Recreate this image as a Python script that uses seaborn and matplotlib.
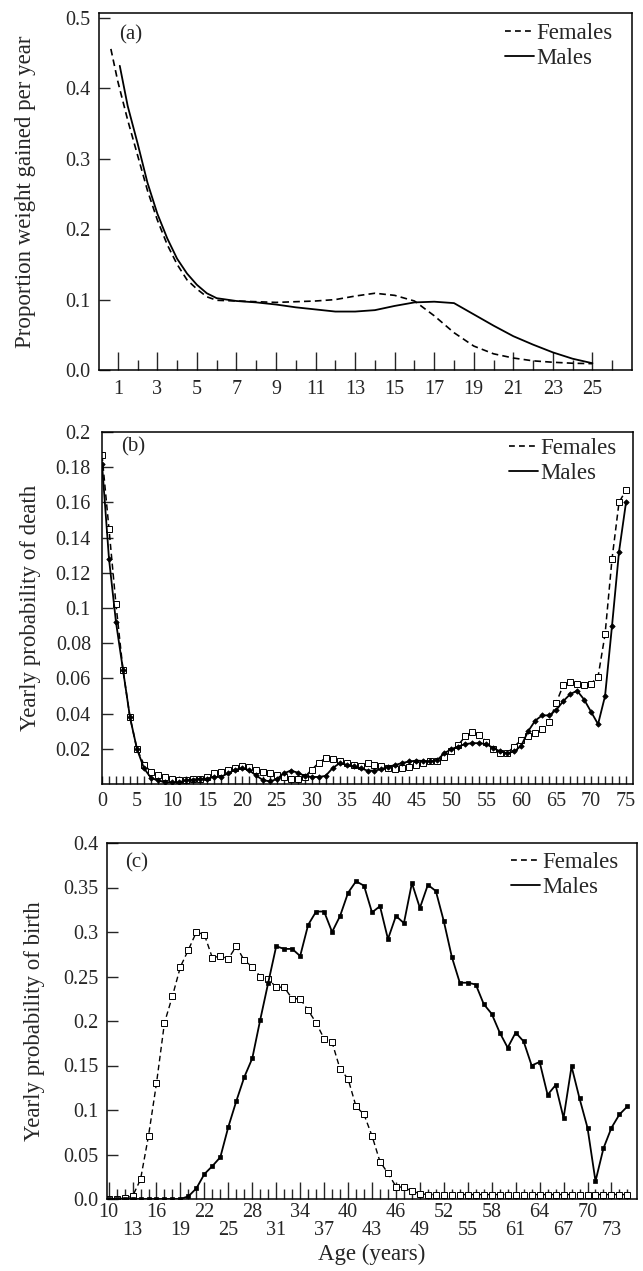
import numpy as np
import pandas as pd
import matplotlib
matplotlib.use("Agg")
import matplotlib.pyplot as plt
from matplotlib.lines import Line2D
from matplotlib.ticker import FixedLocator, FixedFormatter
import seaborn as sns

# ---------------- data ----------------
# (a) proportion weight gained per year
a_female_age = [0.65, 1, 1.5, 2, 2.5, 3, 3.5, 4, 4.5, 5, 5.5, 6, 7, 8, 9, 10, 11, 12, 13, 14, 15,
                16, 17, 18, 19, 20, 21, 22, 23, 24, 25]
a_female = [0.456, 0.41, 0.355, 0.305, 0.255, 0.213, 0.178, 0.150, 0.128, 0.115, 0.104, 0.099,
            0.098, 0.097, 0.096, 0.097, 0.098, 0.100, 0.105, 0.109, 0.106, 0.098, 0.077, 0.053,
            0.034, 0.023, 0.017, 0.013, 0.011, 0.0096, 0.009]
a_male_age = [1.1, 1.5, 2, 2.5, 3, 3.5, 4, 4.5, 5, 5.5, 6, 7, 8, 9, 10, 11, 12, 13, 14, 15,
              16, 17, 18, 19, 20, 21, 22, 23, 24, 25]
a_male = [0.432, 0.375, 0.322, 0.266, 0.222, 0.187, 0.158, 0.137, 0.121, 0.109, 0.102,
          0.098, 0.096, 0.093, 0.089, 0.086, 0.083, 0.083, 0.085, 0.091, 0.096, 0.097, 0.095,
          0.079, 0.063, 0.048, 0.036, 0.025, 0.016, 0.0096]

# (b) yearly probability of death, ages 0..75
b_age = list(range(0, 76))
b_female = [0.187, 0.145, 0.102, 0.065, 0.038, 0.020, 0.011, 0.007, 0.005, 0.004,
            0.003, 0.002, 0.002, 0.003, 0.003, 0.004, 0.006, 0.007, 0.008, 0.009,
            0.010, 0.0099, 0.008, 0.007, 0.0065, 0.005, 0.004, 0.003, 0.0027, 0.004,
            0.008, 0.012, 0.0147, 0.014, 0.0128, 0.012, 0.011, 0.010, 0.0118, 0.011,
            0.010, 0.009, 0.0084, 0.009, 0.0099, 0.0108, 0.0118, 0.0128, 0.0133, 0.0156,
            0.0185, 0.0223, 0.027, 0.0293, 0.028, 0.024, 0.0198, 0.0175, 0.0175, 0.0213,
            0.025, 0.027, 0.029, 0.031, 0.035, 0.046, 0.056, 0.058, 0.057, 0.056,
            0.057, 0.061, 0.085, 0.128, 0.160, 0.167]
b_male = [0.182, 0.128, 0.092, 0.065, 0.038, 0.020, 0.009, 0.0035, 0.002, 0.001,
          0.001, 0.001, 0.002, 0.0025, 0.003, 0.003, 0.004, 0.004, 0.006, 0.008,
          0.009, 0.008, 0.005, 0.0023, 0.0015, 0.0027, 0.006, 0.0076, 0.0065, 0.0046,
          0.004, 0.004, 0.0046, 0.009, 0.0118, 0.011, 0.010, 0.009, 0.0076, 0.0076,
          0.0084, 0.0099, 0.0108, 0.012, 0.0128, 0.0133, 0.0131, 0.0128, 0.0137, 0.0175,
          0.0198, 0.0213, 0.0227, 0.0232, 0.0232, 0.0227, 0.0204, 0.0185, 0.0175, 0.0185,
          0.0217, 0.030, 0.036, 0.039, 0.039, 0.042, 0.047, 0.051, 0.053, 0.048,
          0.041, 0.034, 0.050, 0.090, 0.132, 0.160]

# (c) yearly probability of birth, ages 10..75
c_age = list(range(10, 76))
c_female = [0.0, 0.0, 0.001, 0.003, 0.022, 0.071, 0.130, 0.198, 0.228, 0.261,
            0.280, 0.300, 0.297, 0.271, 0.273, 0.270, 0.284, 0.268, 0.261, 0.250,
            0.247, 0.238, 0.238, 0.225, 0.225, 0.212, 0.198, 0.180, 0.176, 0.146,
            0.135, 0.104, 0.095, 0.071, 0.042, 0.029, 0.014, 0.013, 0.009, 0.006,
            0.005, 0.005, 0.005, 0.005, 0.005, 0.005, 0.005, 0.005, 0.005, 0.005,
            0.005, 0.005, 0.005, 0.005, 0.005, 0.005, 0.005, 0.005, 0.005, 0.005,
            0.005, 0.005, 0.005, 0.005, 0.005, 0.005]
c_male = [0.0, 0.0, 0.0, 0.0, 0.0, 0.0, 0.0, 0.0, 0.0, 0.0,
          0.003, 0.012, 0.028, 0.037, 0.047, 0.081, 0.110, 0.137, 0.158, 0.2015,
          0.243, 0.284, 0.281, 0.281, 0.273, 0.308, 0.323, 0.323, 0.300, 0.318,
          0.344, 0.357, 0.352, 0.322, 0.329, 0.292, 0.318, 0.310, 0.355, 0.327,
          0.353, 0.346, 0.312, 0.272, 0.243, 0.243, 0.241, 0.219, 0.208, 0.187,
          0.170, 0.187, 0.177, 0.150, 0.154, 0.117, 0.128, 0.091, 0.149, 0.113,
          0.080, 0.020, 0.057, 0.080, 0.095, 0.104]

a_ylabel = "Proportion weight gained per year"
b_ylabel = "Yearly probability of death"
c_ylabel = "Yearly probability of birth"
c_xlabel = "Age (years)"
legend_labels = ["Females", "Males"]

# ---------------- style ----------------
sns.set_style("ticks")
plt.rcParams['font.family'] = ['Liberation Serif', 'DejaVu Serif']
plt.rcParams['axes.linewidth'] = 1.1
plt.rcParams['xtick.direction'] = 'in'
plt.rcParams['ytick.direction'] = 'in'

W, H = 643, 1271
fig = plt.figure(figsize=(W / 100, H / 100), dpi=100)

def box(l, t, r, b):
    return [l / W, 1 - b / H, (r - l) / W, (b - t) / H]

ax_a = fig.add_axes(box(99, 13, 632, 370))
ax_b = fig.add_axes(box(102, 432, 633, 784))
ax_c = fig.add_axes(box(107, 843, 637, 1199))

TICK_FS = 14.5
LAB_FS = 16.5
PANEL_FS = 15

def legend(ax, anchor):
    handles = [Line2D([], [], color='black', lw=1.2, ls=(0, (3.5, 2.5))),
               Line2D([], [], color='black', lw=1.3, ls='-')]
    ax.legend(handles, legend_labels, loc='upper right', bbox_to_anchor=anchor,
              frameon=False, fontsize=LAB_FS, handlelength=1.25, handletextpad=0.12,
              labelspacing=0.18, borderaxespad=0.0)

# ---- panel (a) ----
dfa_f = pd.DataFrame({"age": a_female_age, "val": a_female})
dfa_m = pd.DataFrame({"age": a_male_age, "val": a_male})
sns.lineplot(data=dfa_f, x="age", y="val", ax=ax_a, color='black', lw=1.2,
             linestyle=(0, (4, 2.5)), sort=False)
sns.lineplot(data=dfa_m, x="age", y="val", ax=ax_a, color='black', lw=1.3, sort=False)
ax_a.set_xlim(0.05, 27.0)
ax_a.set_ylim(0, 0.507)
ax_a.xaxis.set_major_locator(FixedLocator(list(range(1, 26, 2))))
ax_a.xaxis.set_minor_locator(FixedLocator(list(range(2, 27, 2))))
ax_a.set_yticks([0.0, 0.1, 0.2, 0.3, 0.4, 0.5])
ax_a.set_yticklabels(["0.0", "0.1", "0.2", "0.3", "0.4", "0.5"])
ax_a.tick_params(axis='x', which='major', length=13, width=1, pad=7, labelsize=TICK_FS)
ax_a.tick_params(axis='x', which='minor', length=7, width=1)
ax_a.tick_params(axis='y', length=8, width=1, pad=6, labelsize=TICK_FS)
ax_a.set_xlabel("")
ax_a.set_ylabel(a_ylabel, fontsize=LAB_FS)
ax_a.yaxis.set_label_coords(-0.118, 0.5)
ax_a.text(0.037, 0.94, "(a)", transform=ax_a.transAxes, fontsize=PANEL_FS, va='center', ha='left')
legend(ax_a, (0.981, 0.997))

# ---- panel (b) ----
dfb = pd.DataFrame({"age": b_age, "f": b_female, "m": b_male})
sns.lineplot(data=dfb, x="age", y="f", ax=ax_b, color='black', lw=1.1,
             linestyle=(0, (4, 2.5)), marker='s', markersize=4, markerfacecolor='white',
             markeredgecolor='black', markeredgewidth=0.7)
sns.lineplot(data=dfb, x="age", y="m", ax=ax_b, color='black', lw=1.3,
             marker='D', markersize=2.8, markerfacecolor='black',
             markeredgecolor='black', markeredgewidth=0.5)
ax_b.set_xlim(0, 76)
ax_b.set_ylim(0, 0.2)
ax_b.xaxis.set_major_locator(FixedLocator(list(range(0, 76, 5))))
ax_b.xaxis.set_minor_locator(FixedLocator(list(range(1, 76))))
b_yt = [0.02, 0.04, 0.06, 0.08, 0.1, 0.12, 0.14, 0.16, 0.18, 0.2]
ax_b.yaxis.set_major_locator(FixedLocator(b_yt))
ax_b.yaxis.set_major_formatter(FixedFormatter(["0.02", "0.04", "0.06", "0.08", "0.1",
                                               "0.12", "0.14", "0.16", "0.18", "0.2"]))
ax_b.tick_params(axis='x', which='major', length=6, width=1, pad=6, labelsize=TICK_FS)
ax_b.tick_params(axis='x', which='minor', length=6, width=1)
ax_b.tick_params(axis='y', length=8, width=1, pad=8, labelsize=TICK_FS)
ax_b.set_xlabel("")
ax_b.set_ylabel(b_ylabel, fontsize=LAB_FS)
ax_b.yaxis.set_label_coords(-0.115, 0.5)
ax_b.text(0.036, 0.957, "(b)", transform=ax_b.transAxes, fontsize=PANEL_FS, va='center', ha='left')
legend(ax_b, (0.987, 1.01))

# ---- panel (c) ----
dfc = pd.DataFrame({"age": c_age, "f": c_female, "m": c_male})
sns.lineplot(data=dfc, x="age", y="f", ax=ax_c, color='black', lw=1.0,
             linestyle=(0, (4, 2.5)), marker='s', markersize=4, markerfacecolor='white',
             markeredgecolor='black', markeredgewidth=0.7)
sns.lineplot(data=dfc, x="age", y="m", ax=ax_c, color='black', lw=1.3,
             marker='s', markersize=3.2, markerfacecolor='black',
             markeredgecolor='black', markeredgewidth=0.5)
ax_c.set_xlim(9.8, 76.2)
ax_c.set_ylim(0, 0.4)
c_xt = list(range(10, 74, 3))
c_xtl = [str(v) if i % 2 == 0 else "\n" + str(v) for i, v in enumerate(c_xt)]
ax_c.xaxis.set_major_locator(FixedLocator(c_xt))
ax_c.xaxis.set_major_formatter(FixedFormatter(c_xtl))
ax_c.xaxis.set_minor_locator(FixedLocator(list(range(11, 76))))
c_yt = [0.0, 0.05, 0.1, 0.15, 0.2, 0.25, 0.3, 0.35, 0.4]
ax_c.yaxis.set_major_locator(FixedLocator(c_yt))
ax_c.yaxis.set_major_formatter(FixedFormatter(["0.0", "0.05", "0.1", "0.15", "0.2",
                                               "0.25", "0.3", "0.35", "0.4"]))
ax_c.tick_params(axis='x', which='major', length=12, width=1, pad=3, labelsize=TICK_FS)
ax_c.tick_params(axis='x', which='minor', length=7, width=1)
ax_c.tick_params(axis='y', length=8, width=1, pad=6, labelsize=TICK_FS)
for lab in ax_c.get_xticklabels():
    lab.set_linespacing(0.95)
ax_c.set_xlabel(c_xlabel, fontsize=LAB_FS)
ax_c.xaxis.set_label_coords(0.5, -0.127)
ax_c.set_ylabel(c_ylabel, fontsize=LAB_FS)
ax_c.yaxis.set_label_coords(-0.117, 0.5)
ax_c.text(0.034, 0.944, "(c)", transform=ax_c.transAxes, fontsize=PANEL_FS, va='center', ha='left')
legend(ax_c, (0.983, 1.0))

for ax in (ax_a, ax_b, ax_c):
    for s in ax.spines.values():
        s.set_visible(True)
        s.set_color('black')

fig.savefig("out.png", dpi=100, facecolor='white')
